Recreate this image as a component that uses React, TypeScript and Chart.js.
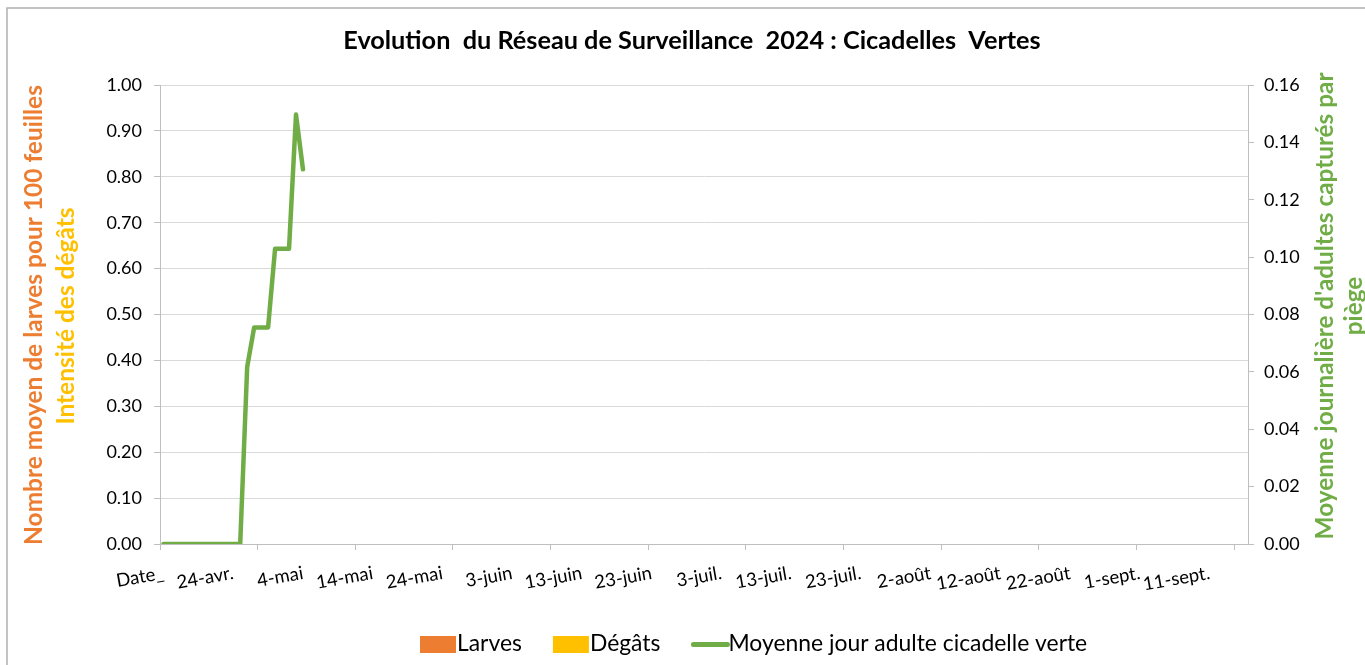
import React, { useEffect, useRef } from 'react';
import { Chart, registerables } from 'chart.js';

Chart.register(...registerables);

const chartTitle = 'Evolution  du Réseau de Surveillance  2024 : Cicadelles  Vertes';
const leftTitleLarves = 'Nombre moyen de larves pour 100 feuilles';
const leftTitleDegats = 'Intensité des dégâts';
const rightTitleLines = ["Moyenne journalière d'adultes capturés par", 'piège'];

// Category axis: one category per day starting at "Date_" (14-avr.)
const categoryCount = 156;
const xLabelCategories = [0, 10, 20, 30, 40, 50, 60, 70, 80, 90, 100, 110, 120, 130, 140, 150];
const xLabels = [
  'Date_', '24-avr.', '4-mai', '14-mai', '24-mai', '3-juin', '13-juin', '23-juin',
  '3-juil.', '13-juil.', '23-juil.', '2-août', '12-août', '22-août', '1-sept.', '11-sept.',
];
const tickMarkCategories = [0, 14, 28, 42, 56, 70, 84, 98, 112, 126, 140, 154];

// Series
const adultDays = [0, 1, 2, 3, 4, 5, 6, 7, 8, 9, 10, 11, 12, 13, 14, 15, 16, 17, 18, 19, 20];
const adultValues = [
  0, 0, 0, 0, 0, 0, 0, 0, 0, 0, 0, 0,
  0.0617, 0.0755, 0.0755, 0.0755, 0.1029, 0.1029, 0.1029, 0.1497, 0.1306,
];
const larvesValues: number[] = [];
const degatsValues: number[] = [];

const leftMax = 1.0;
const leftStep = 0.1;
const rightMax = 0.16;
const rightStep = 0.02;

const ORANGE = '#ED7D31';
const YELLOW = '#FFC000';
const GREEN = '#70AD47';
const FONT = 'Lato';

function fitSize(ctx: CanvasRenderingContext2D, text: string, weight: string, target: number) {
  ctx.font = `${weight} 100px ${FONT}`;
  const w = ctx.measureText(text).width;
  return (100 * target) / w;
}

export default function App() {
  const ref = useRef<HTMLCanvasElement>(null);

  useEffect(() => {
    const canvas = ref.current!;
    const markSet = new Set(tickMarkCategories);
    const labelMap = new Map<number, string>(xLabelCategories.map((c, i) => [c + 0.5, xLabels[i]]));
    const allTicks = Array.from(
      new Set([...tickMarkCategories, ...xLabelCategories.map((c) => c + 0.5)])
    ).sort((a, b) => a - b);

    const decor = {
      id: 'decor',
      beforeDraw(chart: any) {
        const ctx = chart.ctx as CanvasRenderingContext2D;
        ctx.save();
        ctx.fillStyle = '#ffffff';
        ctx.fillRect(0, 0, chart.width, chart.height);
        ctx.strokeStyle = '#b0b0b0';
        ctx.lineWidth = 1.5;
        ctx.strokeRect(7, 8, chart.width + 40, chart.height + 40);
        ctx.restore();
      },
      afterDraw(chart: any) {
        const ctx = chart.ctx as CanvasRenderingContext2D;
        ctx.save();
        // Title
        const ts = fitSize(ctx, chartTitle, 'bold', 698);
        ctx.font = `bold ${ts}px ${FONT}`;
        ctx.fillStyle = '#000';
        ctx.textAlign = 'center';
        ctx.textBaseline = 'alphabetic';
        ctx.fillText(chartTitle, 692, 49);

        // Axis titles
        const drawV = (text: string, x: number, y: number, color: string, size: number) => {
          ctx.save();
          ctx.translate(x, y);
          ctx.rotate(-Math.PI / 2);
          ctx.font = `bold ${size}px ${FONT}`;
          ctx.fillStyle = color;
          ctx.textAlign = 'center';
          ctx.textBaseline = 'alphabetic';
          ctx.fillText(text, 0, 0);
          ctx.restore();
        };
        const os = fitSize(ctx, leftTitleLarves, 'bold', 460);
        drawV(leftTitleLarves, 42, 315, ORANGE, os);
        drawV(leftTitleDegats, 74, 316, YELLOW, os);
        const gs = fitSize(ctx, rightTitleLines[0], 'bold', 467);
        drawV(rightTitleLines[0], 1333, 306, GREEN, gs);
        drawV(rightTitleLines[1], 1362, 306, GREEN, gs);

        // Legend
        const ls = fitSize(ctx, 'Moyenne jour adulte cicadelle verte', 'normal', 359);
        ctx.font = `normal ${ls}px ${FONT}`;
        ctx.textAlign = 'left';
        ctx.textBaseline = 'alphabetic';
        let cx = 420;
        chart.data.datasets.forEach((ds: any) => {
          if (ds.type === 'bar') {
            ctx.fillStyle = ds.backgroundColor;
            ctx.fillRect(cx, 636, 36, 17);
          } else {
            ctx.strokeStyle = ds.borderColor;
            ctx.lineWidth = 5;
            ctx.lineCap = 'round';
            ctx.beginPath();
            ctx.moveTo(cx + 2, 644.5);
            ctx.lineTo(cx + 36, 644.5);
            ctx.stroke();
          }
          ctx.fillStyle = '#000';
          ctx.fillText(ds.label, cx + 37, 651);
          cx += 37 + ctx.measureText(ds.label).width + 31;
        });
        ctx.restore();
      },
    };

    const chart = new Chart(canvas, {
      type: 'line',
      data: {
        datasets: [
          {
            type: 'bar',
            label: 'Larves',
            data: larvesValues.map((v, i) => ({ x: i + 0.5, y: v })),
            backgroundColor: ORANGE,
            yAxisID: 'y',
          } as any,
          {
            type: 'bar',
            label: 'Dégâts',
            data: degatsValues.map((v, i) => ({ x: i + 0.5, y: v })),
            backgroundColor: YELLOW,
            yAxisID: 'y',
          } as any,
          {
            type: 'line',
            label: 'Moyenne jour adulte cicadelle verte',
            data: adultDays.map((d, i) => ({ x: d + 0.5, y: adultValues[i] })),
            borderColor: GREEN,
            backgroundColor: GREEN,
            borderWidth: 4.5,
            pointRadius: 0,
            tension: 0,
            borderCapStyle: 'round',
            borderJoinStyle: 'round',
            yAxisID: 'y1',
          } as any,
        ],
      },
      options: {
        responsive: false,
        animation: false,
        devicePixelRatio: 1,
        layout: { padding: { top: 85, left: 0, right: 0, bottom: 0 } },
        plugins: {
          legend: { display: false },
          title: { display: false },
          tooltip: { enabled: false },
        },
        scales: {
          x: {
            type: 'linear',
            offset: false,
            min: 0,
            max: categoryCount,
            afterBuildTicks: (scale: any) => {
              scale.ticks = allTicks.map((v) => ({ value: v }));
            },
            afterFit: (scale: any) => {
              scale.height = 121;
              scale.paddingLeft = 0;
              scale.paddingRight = 0;
            },
            ticks: {
              autoSkip: false,
              minRotation: 10,
              maxRotation: 10,
              padding: 12,
              color: '#000',
              font: { family: FONT, size: 18.5 },
              callback: (v: any) => labelMap.get(Number(v)) ?? '',
            },
            grid: {
              offset: false,
              drawOnChartArea: false,
              tickLength: 6,
              tickColor: (c: any) => (c.tick && markSet.has(c.tick.value) ? '#bfbfbf' : 'rgba(0,0,0,0)'),
            },
            border: { color: '#bfbfbf' },
          },
          y: {
            type: 'linear',
            position: 'left',
            min: 0,
            max: leftMax,
            afterFit: (scale: any) => {
              scale.width = 160;
              scale.paddingTop = 0;
              scale.paddingBottom = 0;
            },
            ticks: {
              stepSize: leftStep,
              padding: 12,
              color: '#000',
              font: { family: FONT, size: 18 },
              callback: (v: any) => Number(v).toFixed(2),
            },
            grid: { color: '#d9d9d9', tickColor: '#bfbfbf', tickLength: 6 },
            border: { color: '#bfbfbf' },
          },
          y1: {
            type: 'linear',
            position: 'right',
            min: 0,
            max: rightMax,
            afterFit: (scale: any) => {
              scale.width = 117;
              scale.paddingTop = 0;
              scale.paddingBottom = 0;
            },
            ticks: {
              stepSize: rightStep,
              padding: 10,
              color: '#000',
              font: { family: FONT, size: 18 },
              callback: (v: any) => Number(v).toFixed(2),
            },
            grid: { drawOnChartArea: false, tickColor: '#bfbfbf', tickLength: 6 },
            border: { color: '#bfbfbf' },
          },
        },
      },
      plugins: [decor],
    });

    return () => chart.destroy();
  }, []);

  return (
    <div style={{ position: 'absolute', left: 0, top: 0, width: 1365, height: 665 }}>
      <canvas ref={ref} width={1365} height={665} style={{ display: 'block' }} />
    </div>
  );
}
